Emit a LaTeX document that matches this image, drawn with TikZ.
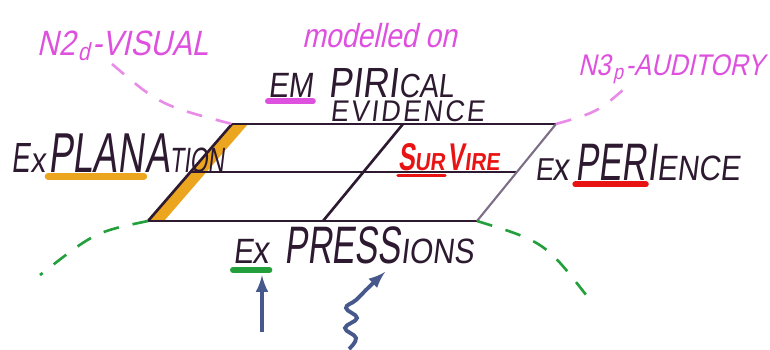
\documentclass[tikz,border=0pt]{standalone}
\usepackage{fontspec}
\setmainfont{Liberation Sans}
\newfontfamily\tallfont[FakeStretch=0.65,FakeSlant=0.12]{Liberation Sans}
\newfontfamily\lowfont[FakeStretch=0.85,FakeSlant=0.12]{Liberation Sans}
\newfontfamily\spacedfont[FakeStretch=0.9,FakeSlant=0.12,LetterSpace=8]{Liberation Sans}
\newfontfamily\penfont[FakeStretch=0.85,FakeSlant=0.22]{Liberation Sans}
\usepackage{xcolor}
\usepackage{tikz}
\usetikzlibrary{positioning}

\definecolor{ink}{RGB}{45,25,48}
\definecolor{edgegray}{RGB}{125,110,135}
\definecolor{pink}{RGB}{222,80,222}
\definecolor{pinkdash}{RGB}{232,140,232}
\definecolor{marigold}{RGB}{236,165,30}
\definecolor{redpen}{RGB}{232,20,20}
\definecolor{greenpen}{RGB}{35,160,60}
\definecolor{bluepen}{RGB}{70,88,140}

\newcommand{\tallsize}[1]{\tallfont\fontsize{#1}{#1}\selectfont}
\newcommand{\lowsize}[1]{\lowfont\fontsize{#1}{#1}\selectfont}

\begin{document}
\begin{tikzpicture}[x=0.2mm, y=-0.2mm, >=latex,
    word/.style={inner sep=0pt, outer sep=0pt, anchor=base west, text=ink},
    pinkword/.style={word, text=pink, font=\penfont},
    marker/.style={line width=3.4pt, line cap=round},
    dashpen/.style={line width=1.5pt, dash pattern=on 9pt off 8pt},
    gridline/.style={ink, line width=1.5pt}]
    \useasboundingbox (0,0) rectangle (770,349);

    % 1. Corners of the grid
    \coordinate (tl) at (232,124);
    \coordinate (tr) at (556,124);
    \coordinate (br) at (477,221);
    \coordinate (bl) at (148,221);
    \coordinate (tm) at (403,124);
    \coordinate (bm) at (323,221);
    \coordinate (ml) at (190,172);
    \coordinate (mr) at (516,172);

    % 2. Orange band on the left side
    \fill[marigold] (tl) -- ++(16,0) -- ([xshift=16*0.2mm]bl) -- (bl) -- cycle;

    % 3. The grid itself
    \draw[gridline] (tl) -- (tr);
    \draw[gridline] (bl) -- (br);
    \draw[gridline] (ml) -- (mr);
    \draw[gridline] (tl) -- (bl);
    \draw[gridline] (tm) -- (bm);
    \draw[edgegray, line width=1.2pt] (tr) -- (br);

    % 4. Pink texts on top
    \node[pinkword, font=\penfont\fontsize{20}{20}\selectfont] (visual) at (37,55) {N2\kern1.5pt\textsubscript{d}\kern1pt-VISUAL};
    \node[pinkword, font=\penfont\fontsize{19}{19}\selectfont] (model) at (302,47) {modelled on};
    \node[pinkword, font=\penfont\fontsize{17}{17}\selectfont] (audit) at (578,75) {N3\kern1.5pt\textsubscript{p}\kern1pt-AUDITORY};

    % 5. Empirical evidence
    \node[word, font=\lowsize{20}] (empEm) at (268,97) {EM};
    \node[word, font=\lowsize{24}, base right=3.2mm of empEm] (empRest) {PIRI{\lowsize{19}CAL}};
    \node[word, font=\spacedfont\fontsize{17}{17}\selectfont] (empEvid) at (330,121) {EVIDENCE};
    \draw[marker, pink] ([yshift=-2.5pt]empEm.south west) -- ([yshift=-2.5pt]empEm.south east);

    % 6. Explanation
    \node[word, font=\tallsize{24}] (explEx) at (12,172) {E{\lowsize{20}x}};
    \node[word, font=\tallsize{32}, base right=0.6mm of explEx] (explPlan) {PLAN};
    \node[word, font=\tallsize{32}, base right=0.3mm of explPlan] (explRest) {A{\tallsize{20}TION}};
    \draw[marker, marigold, line width=4pt] ([yshift=-2.5pt]explPlan.south west) -- ([yshift=-2.5pt]explPlan.south east);

    % 7. Survire
    \node[word, text=redpen, font=\tallsize{22}\bfseries] (survSur) at (398,170) {S{\lowsize{14}\bfseries UR}};
    \node[word, text=redpen, font=\tallsize{22}\bfseries, base right=0.6mm of survSur] (survVire) {V{\lowsize{14}\bfseries IRE}};
    \draw[redpen, line width=2pt, line cap=round] ([yshift=-3pt]survSur.south west) -- ([yshift=-3pt]survSur.south east);

    % 8. Experience
    \node[word, font=\lowsize{18}] (expEx) at (535,180) {E{\lowsize{22}x}};
    \node[word, font=\tallsize{30}, base right=1.2mm of expEx] (expPer) {PER};
    \node[word, font=\tallsize{30}, base right=0.3mm of expPer] (expRest) {I{\lowsize{20}ENCE}};
    \draw[marker, redpen] ([yshift=-2.5pt]expPer.south west) -- ([yshift=-2.5pt]expPer.south east);

    % 9. Expressions
    \node[word, font=\lowsize{20}] (presEx) at (233,263) {E{\lowsize{22}x}};
    \node[word, font=\tallsize{30}, base right=3mm of presEx] (presRest) {PRESS{\lowsize{20}IONS}};
    \draw[marker, greenpen] ([yshift=-4pt]presEx.south west) -- ([yshift=-4pt]presEx.south east);

    % 10. Dashed arcs
    \draw[dashpen, pinkdash] (112,64) .. controls (160,105) .. (tl);
    \draw[dashpen, pinkdash] (tr) .. controls (598,112) .. (632,82);
    \draw[dashpen, greenpen] (bl) .. controls (95,232) .. (40,275);
    \draw[dashpen, greenpen] (br) .. controls (545,242) .. (590,300);

    % 11. Blue arrows from below
    \coordinate (footA) at (262,332);
    \coordinate (squigTip) at (385,272);
    \draw[->, bluepen, line width=2.2pt] (footA) -- ([yshift=-7pt]footA |- presEx.south);
    \draw[->, bluepen, line width=2.2pt] plot[smooth, tension=0.7] coordinates
        {(349,349) (356,338) (345,328) (357,318) (346,308) (356,300) (368,288) (squigTip)};
\end{tikzpicture}
\end{document}
